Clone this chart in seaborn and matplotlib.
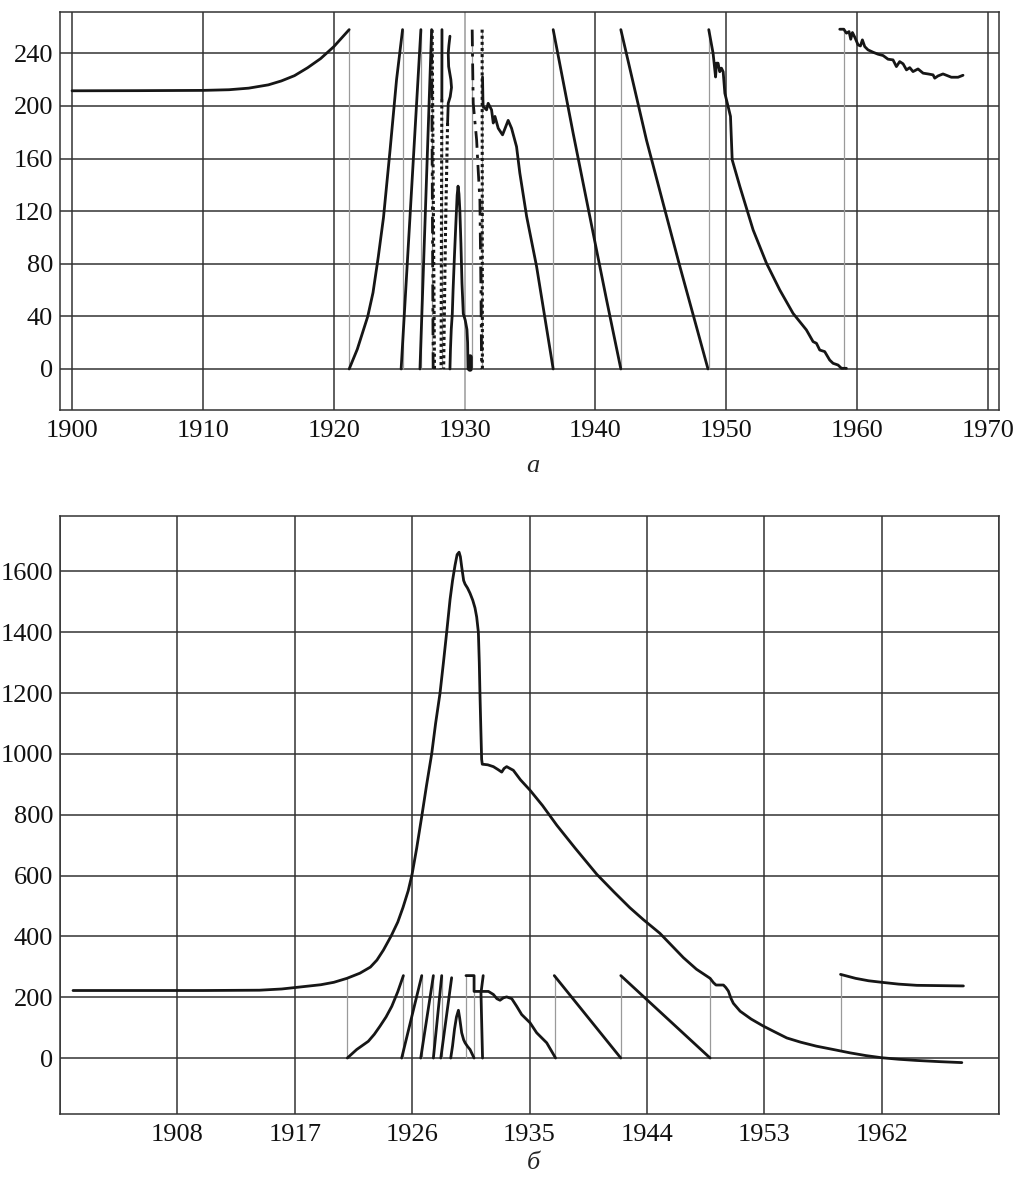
import pandas as pd
import matplotlib
matplotlib.use("Agg")
import matplotlib.pyplot as plt
import seaborn as sns

# ---------- chart a (top) ----------
a_xticks = [1900, 1910, 1920, 1930, 1940, 1950, 1960, 1970]
a_yticks = [0, 40, 80, 120, 160, 200, 240]

a_start_x = [1900, 1905, 1910, 1912, 1913.5, 1915, 1916, 1917, 1918, 1919, 1920, 1921.18]
a_start_y = [211.5, 211.6, 211.8, 212.3, 213.5, 216, 219, 223, 229, 236, 245, 258]

a_rise1_x = [1921.18, 1921.8, 1922.6, 1923.0, 1923.4, 1923.8, 1924.3, 1924.8, 1925.26]
a_rise1_y = [0, 15, 40, 58, 85, 115, 166, 220, 258]

a_rise2_x = [1925.15, 1926.66]
a_rise2_y = [0, 258]
a_rise3_x = [1926.59, 1927.48]
a_rise3_y = [0, 258]

a_dot1_x = [1927.7, 1927.52]
a_dot1_y = [0, 258]
a_dd1_x = [1927.6, 1927.48]
a_dd1_y = [0, 240]

a_q1_x = [1928.27, 1928.26]
a_q1_y = [258, 205]
a_q2_x = [1928.26, 1928.2]
a_q2_y = [205, 0]

a_wave_x = [1928.88, 1928.8, 1928.75, 1928.78, 1928.95, 1929.0, 1928.9, 1928.75, 1928.7]
a_wave_y = [253, 246, 240, 230, 220, 214, 207, 202, 187]
a_wdot_x = [1928.7, 1928.55, 1928.45, 1928.4]
a_wdot_y = [187, 110, 40, 0]

a_bump_x = [1928.88, 1928.92, 1928.98, 1929.06, 1929.12, 1929.22, 1929.33, 1929.43, 1929.5,
            1929.57, 1929.64, 1929.72, 1929.8, 1929.9, 1930.05, 1930.18, 1930.23, 1930.26]
a_bump_y = [0, 15, 30, 42, 60, 85, 110, 132, 139, 133, 120, 95, 65, 42, 37, 30, 20, 0]

a_blob_x = [1930.45, 1930.45]
a_blob_y = [0, 9]

a_dd2_x = [1930.58, 1930.61, 1930.66, 1930.92, 1931.04, 1931.17, 1931.25, 1931.3]
a_dd2_y = [258, 235, 202, 174, 151, 128, 60, 0]

a_dot2_x = [1931.34, 1931.36]
a_dot2_y = [258, 0]

a_fall1_x = [1931.37, 1931.4, 1931.42, 1931.68, 1931.8, 1932.06, 1932.19, 1932.32, 1932.57,
             1932.9, 1933.33, 1933.59, 1933.97, 1934.22, 1934.74, 1935.5, 1936.77]
a_fall1_y = [222, 205, 199.5, 197, 202, 197, 187, 192, 183, 178, 189, 183, 169, 149, 116, 78, 0]

a_fall2_x = [1936.77, 1938.3, 1939.83, 1940.85, 1941.94]
a_fall2_y = [258, 179, 103, 52.5, 0]

a_fall3_x = [1941.94, 1943.9, 1945.17, 1946.45, 1947.72, 1948.6]
a_fall3_y = [258, 174, 126, 78, 32, 0]

a_fall4_x = [1948.66, 1948.99, 1949.18, 1949.25, 1949.37, 1949.5, 1949.63, 1949.76, 1949.89,
             1950.14, 1950.32, 1950.45, 1951.04, 1952.05, 1953.07, 1954.09, 1955.1, 1956.12,
             1956.63, 1956.89, 1957.14, 1957.52, 1957.9, 1958.16, 1958.54, 1958.8, 1959.18]
a_fall4_y = [258, 240, 222, 232.5, 232.5, 226, 228.7, 226, 209.6, 199.5, 192, 159, 138.6,
             105.7, 80.4, 60, 42.3, 29.7, 20.8, 19.5, 14.4, 13.2, 6.8, 4.3, 3, 0.5, 0.5]

a_tail_x = [1958.67, 1958.98, 1959.18, 1959.38, 1959.51, 1959.64, 1959.82, 1960.07, 1960.25,
            1960.4, 1960.58, 1960.83, 1961.22, 1961.6, 1961.98, 1962.36, 1962.74, 1963.0,
            1963.25, 1963.51, 1963.77, 1964.02, 1964.27, 1964.65, 1965.04, 1965.42, 1965.8,
            1965.93, 1966.18, 1966.56, 1966.82, 1967.2, 1967.71, 1968.09]
a_tail_y = [258.3, 258.3, 255.3, 256.5, 250.7, 255.8, 252.2, 246.4, 245.6, 250.2, 245.1, 242.6,
            240.8, 239.3, 238.3, 235.5, 235, 229.9, 233.7, 232, 227.4, 229.1, 226.1, 228.1,
            224.9, 224.3, 223.6, 221.1, 222.8, 224.3, 223.3, 221.8, 221.8, 223.3]

a_resets = [1921.18, 1925.26, 1926.66, 1927.5, 1928.24, 1930.58, 1931.34,
            1936.77, 1941.94, 1948.66, 1958.98]
a_reset_top = 258

# ---------- chart b (bottom) ----------
b_xticks = [1899, 1908, 1917, 1926, 1935, 1944, 1953, 1962, 1971]
b_xlabels = ["", "1908", "1917", "1926", "1935", "1944", "1953", "1962", ""]
b_yticks = [0, 200, 400, 600, 800, 1000, 1200, 1400, 1600]

b_main_x = [1900, 1905, 1910, 1914.3, 1916, 1917.5, 1919, 1920, 1921, 1922, 1922.8, 1923.3,
            1923.8, 1924.4, 1924.9, 1925.3, 1925.7, 1926.0, 1926.35, 1926.74, 1927.1, 1927.5,
            1927.8, 1928.14, 1928.4, 1928.65, 1928.91, 1929.1, 1929.29, 1929.45, 1929.6,
            1929.7, 1929.8, 1929.95, 1930.06, 1930.25, 1930.44, 1930.65, 1930.82, 1930.95,
            1931.08, 1931.15, 1931.2, 1931.27, 1931.33, 1931.38, 1931.8, 1932.23, 1932.6,
            1932.87, 1933.05, 1933.25, 1933.5, 1933.76, 1934.3, 1935.05, 1936, 1937.1, 1938.5,
            1940.16, 1941.5, 1942.7, 1943.73, 1945, 1946.8, 1947.8, 1948.5, 1948.85, 1949.1,
            1949.3, 1949.87, 1950.05, 1950.25, 1950.45, 1950.63, 1951.15, 1952, 1952.93,
            1953.8, 1954.73, 1955.8, 1957, 1958.3, 1959.58, 1960.8, 1962, 1963.3, 1964.7,
            1966.5, 1968.15]
b_main_y = [222, 222, 222, 223, 227, 234, 241, 249, 262, 279, 299, 322, 355, 402, 447, 495,
            550, 605, 690, 795, 895, 1000, 1100, 1200, 1300, 1400, 1508, 1570, 1620, 1655,
            1663, 1648, 1615, 1570, 1558, 1545, 1528, 1505, 1480, 1450, 1400, 1300, 1200,
            1080, 982, 966, 964, 958, 948, 940, 952, 958, 952, 946, 915, 880, 830, 765, 690,
            604, 545, 494, 455, 410, 330, 292, 272, 262, 248, 240, 240, 232, 220, 196, 180,
            154, 128, 105, 86, 66, 52, 39, 28, 17, 8, 1, -4, -8, -12, -15]

b_upper_x = [1958.85, 1960, 1961, 1962, 1963.3, 1964.7, 1966.5, 1968.27]
b_upper_y = [275, 262, 254, 249, 243, 239, 238, 237]

b_saw_x = [
    [1921.03, 1921.75, 1922.64, 1923.1, 1923.54, 1924.0, 1924.44, 1924.9, 1925.33],
    [1925.2, 1926.74],
    [1926.66, 1927.63],
    [1927.63, 1928.27],
    [1928.2, 1929.03],
    [1928.96, 1929.1, 1929.25, 1929.4, 1929.55, 1929.65, 1929.8, 1929.95, 1930.06,
     1930.25, 1930.44, 1930.75],
    [1930.13, 1930.75, 1930.75, 1931.5, 1931.85, 1932.23, 1932.5, 1932.74, 1933.0,
     1933.25, 1933.64, 1934.02, 1934.4, 1935.04, 1935.55, 1936.32, 1937.0],
    [1931.4, 1931.32, 1931.28, 1931.45],
    [1936.9, 1942.0],
    [1942.0, 1948.85],
]
b_saw_y = [
    [0, 28, 55, 78, 105, 135, 170, 218, 271],
    [0, 271],
    [0, 271],
    [0, 271],
    [0, 264],
    [0, 40, 95, 135, 157, 130, 83, 60, 50, 38, 28, 0],
    [271, 271, 219, 219, 219, 209, 195, 190, 198, 201, 195, 170, 143, 116, 83, 50, 0],
    [0, 140, 214, 271],
    [271, 0],
    [271, 0],
]

b_resets = [1921.03, 1925.33, 1926.74, 1927.63, 1928.27, 1930.13, 1930.75,
            1936.95, 1942.0, 1948.85, 1958.87]
b_reset_lo = [0, 0, 0, 0, 0, 0, 0, 0, 0, 0, 28]
b_reset_hi = [266, 271, 271, 271, 271, 271, 219, 271, 271, 264, 275]

# ---------- style ----------
sns.set_theme(style="white")
plt.rcParams["font.family"] = ["Liberation Serif", "DejaVu Serif"]
plt.rcParams["font.size"] = 19

INK = "#161616"
GRID = "#333333"
THIN = "#9a9a9a"
LW = 2.0

fig = plt.figure(figsize=(10.14, 11.82), dpi=100)
ax_a = fig.add_axes([60 / 1014, 1 - 410 / 1182, 939 / 1014, 398 / 1182])
ax_b = fig.add_axes([60 / 1014, 1 - 1114 / 1182, 939 / 1014, 598 / 1182])


def draw(ax, xs, ys, **kw):
    df = pd.DataFrame({"year": xs, "value": ys})
    style = dict(color=INK, lw=LW, sort=False, estimator=None, ax=ax)
    style.update(kw)
    sns.lineplot(data=df, x="year", y="value", **style)


def frame(ax):
    ax.grid(True, color=GRID, lw=1.1)
    ax.set_axisbelow(True)
    for s in ax.spines.values():
        s.set_color(GRID)
        s.set_linewidth(1.1)
        s.set_visible(True)
    ax.tick_params(length=0, labelsize=19, colors="#111111")
    ax.tick_params(axis="y", pad=5)
    ax.tick_params(axis="x", pad=7)
    ax.set_xlabel("")
    ax.set_ylabel("")


# chart a
ax_a.vlines(a_resets, 0, a_reset_top, color=THIN, lw=0.9, zorder=1)
draw(ax_a, a_start_x, a_start_y)
draw(ax_a, a_rise1_x, a_rise1_y)
draw(ax_a, a_rise2_x, a_rise2_y)
draw(ax_a, a_rise3_x, a_rise3_y)
draw(ax_a, a_dot1_x, a_dot1_y, linestyle=(0, (1, 1)), lw=2.2)
draw(ax_a, a_dd1_x, a_dd1_y, linestyle=(0, (6, 2.5, 1.2, 2.5)))
draw(ax_a, a_q1_x, a_q1_y)
draw(ax_a, a_q2_x, a_q2_y, linestyle=(0, (1, 1)), lw=2.2)
draw(ax_a, a_wave_x, a_wave_y)
draw(ax_a, a_wdot_x, a_wdot_y, linestyle=(0, (1, 1)), lw=2.2)
draw(ax_a, a_bump_x, a_bump_y)
draw(ax_a, a_blob_x, a_blob_y, lw=4)
draw(ax_a, a_dd2_x, a_dd2_y, linestyle=(0, (6, 2.5, 1.2, 2.5)))
draw(ax_a, a_dot2_x, a_dot2_y, linestyle=(0, (1, 1)), lw=2.2)
draw(ax_a, a_fall1_x, a_fall1_y)
draw(ax_a, a_fall2_x, a_fall2_y)
draw(ax_a, a_fall3_x, a_fall3_y)
draw(ax_a, a_fall4_x, a_fall4_y)
draw(ax_a, a_tail_x, a_tail_y)

ax_a.set_xlim(1899.08, 1970.84)
ax_a.set_ylim(-31.2, 271.4)
ax_a.set_xticks(a_xticks)
ax_a.set_yticks(a_yticks)
frame(ax_a)
ax_a.get_xgridlines()[3].set_color(THIN)

# chart b
ax_b.vlines(b_resets, b_reset_lo, b_reset_hi, color=THIN, lw=0.9, zorder=1)
draw(ax_b, b_main_x, b_main_y)
draw(ax_b, b_upper_x, b_upper_y)
for xs, ys in zip(b_saw_x, b_saw_y):
    draw(ax_b, xs, ys)

ax_b.set_xlim(1899.0, 1971.0)
ax_b.set_ylim(-184, 1782)
ax_b.set_xticks(b_xticks)
ax_b.set_xticklabels(b_xlabels)
ax_b.set_yticks(b_yticks)
frame(ax_b)

fig.text(533 / 1014, 1 - 466 / 1182, "а", style="italic", fontsize=19,
         ha="center", va="center")
fig.text(533 / 1014, 1 - 1163 / 1182, "б", style="italic", fontsize=19,
         ha="center", va="center")

fig.savefig("out.png", dpi=100)
